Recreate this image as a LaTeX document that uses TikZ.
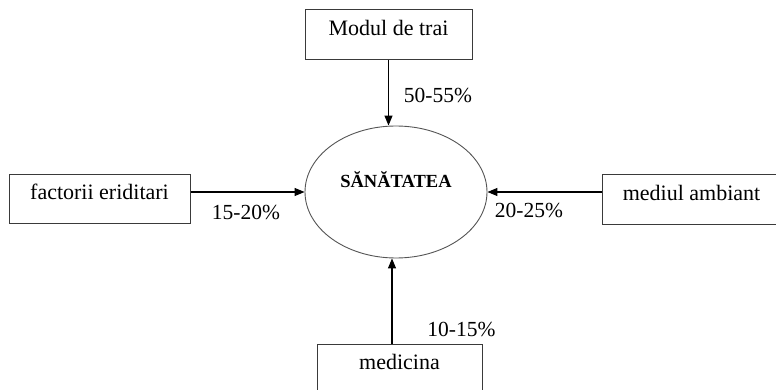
\documentclass[tikz,border=0pt]{standalone}
\usepackage{fontspec}
\setmainfont{Liberation Serif}
\usetikzlibrary{arrows.meta,shapes.geometric}
\definecolor{mBoxLine}{HTML}{3A3A3A}
\definecolor{mOval}{HTML}{555555}

\begin{document}
\begin{tikzpicture}[x=1pt, y=-1pt,
  boxnode/.style={draw=mBoxLine, line width=1pt, rectangle, inner sep=0pt, text height=16pt, text depth=14pt, font=\fontsize{22}{26}\selectfont},
  pct/.style={inner sep=0pt, font=\fontsize{21.5}{24}\selectfont},
  arr/.style={-{Triangle[length=10pt,width=8pt]}, line width=1.1pt}]
\useasboundingbox (0,0) rectangle (776,390);
% boxes round the centre
\node[boxnode, minimum width=167pt, minimum height=50pt] (trai) at (388.5,35) {Modul de trai};
\node[boxnode, minimum width=181pt, minimum height=48pt] (ered) at (99.5,199) {factorii eriditari};
\node[boxnode, minimum width=179pt, minimum height=49pt] (amb) at (691.5,199.5) {mediul ambiant};
\node[boxnode, minimum width=165pt, minimum height=48pt] (med) at (399.5,368) {medicina};
\node[ellipse, draw=mOval, line width=0.9pt, minimum width=182pt, minimum height=132pt, text height=13pt, text depth=21pt, font=\bfseries\fontsize{18.5}{22}\selectfont] (sana) at (396,192) {SĂNĂTATEA};
% arrows
\draw[arr] (trai.south) -- (trai.south |- sana.north);
\draw[arr] (ered.east |- sana.west) -- (sana.west);
\draw[arr] (amb.west |- sana.east) -- (sana.east);
\draw[arr] ([xshift=-7.5pt]med.north) -- ([xshift=-4pt]sana.south);
% shares
\node[pct] (p1) at (438,95) {50-55\%};
\node[pct] (p2) at (246,212.5) {15-20\%};
\node[pct] (p3) at (529,210.5) {20-25\%};
\node[pct] (p4) at (461.5,329.5) {10-15\%};
\end{tikzpicture}
\end{document}
